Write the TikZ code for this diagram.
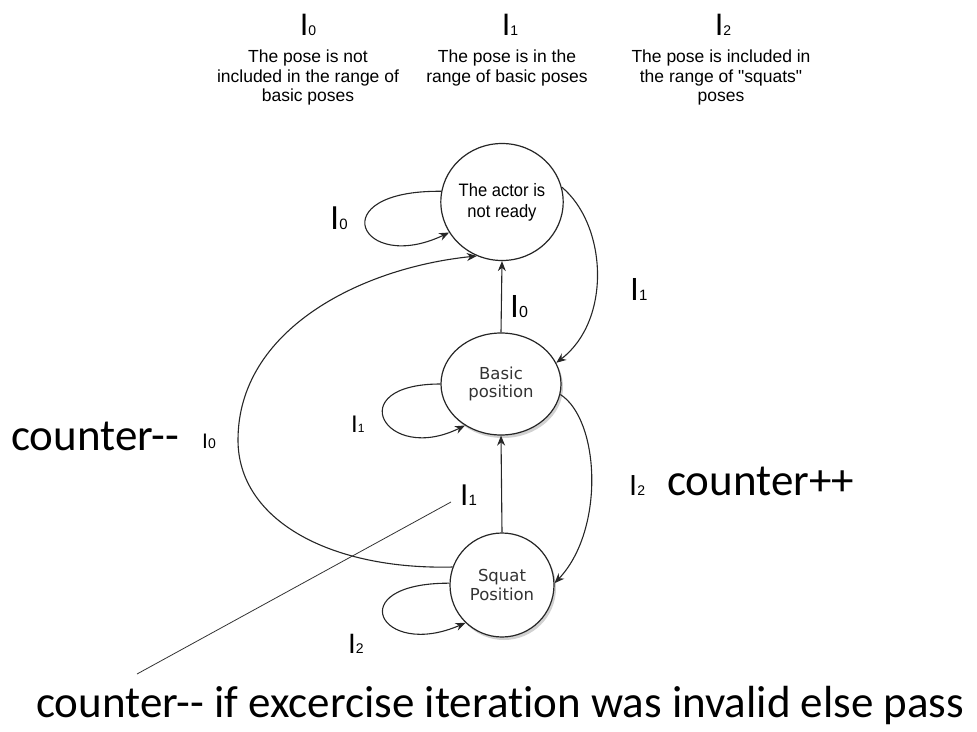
\documentclass[tikz,border=0pt]{standalone}
\usepackage{fontspec}
\setmainfont{Liberation Sans}[Ligatures=TeXOff]
\newfontfamily\narrowsans{Liberation Sans}[FakeStretch=0.92]
\newfontfamily\calib{Carlito}[Ligatures={TeXOff,NoCommon}]
\newfontfamily\djv{DejaVu Sans}
\usetikzlibrary{arrows.meta,shapes.geometric,shadows}
\newcommand\Ilab[3]{{\fontsize{#1}{#1}\selectfont I}{\fontsize{#2}{#2}\selectfont #3}}
\begin{document}
\begin{tikzpicture}[x=1pt,y=-1pt,
  state/.style={draw=black!85, line width=1.2pt, ellipse, inner sep=0pt, align=center, fill=white},
  shadowed/.style={drop shadow={shadow xshift=2pt, shadow yshift=-3pt, fill=black!40, opacity=.45}},
  edge/.style={draw=black!85, line width=1.1pt, -{Stealth[length=10pt,width=8pt]}},
  lbl/.style={anchor=base west, inner sep=0pt},
  desc/.style={anchor=north, align=center, inner sep=0pt, font=\fontsize{17.5}{19.5}\selectfont},
  big/.style={anchor=base west, inner sep=0pt, font=\calib\fontsize{45}{45}\selectfont}]
\useasboundingbox (0,0) rectangle (977,731);

% top legend
\node[anchor=base, inner sep=0pt] (t0) at (308,35) {\Ilab{31}{14}{0}};
\node[anchor=base, inner sep=0pt] (t1) at (510,35) {\Ilab{31}{14}{1}};
\node[anchor=base, inner sep=0pt] (t2) at (723,35) {\Ilab{31}{14}{2}};
\node[desc] (d0) at (308,50) {The pose is not\\included in the range of\\basic poses};
\node[desc] (d1) at (507,50) {The pose is in the\\range of basic poses};
\node[desc] (d2) at (721,50) {The pose is included in\\the range of "squats"\\poses};

% states
\node[state, minimum width=110pt, minimum height=117pt, font=\narrowsans\fontsize{18}{21}\selectfont] (A) at (502,202) {The actor is\\not ready};
\node[state, shadowed, minimum width=120pt, minimum height=102pt, text=black!80, font=\djv\fontsize{16.5}{18.5}\selectfont] (B) at (501,384) {Basic\\position};
\node[state, shadowed, minimum width=104pt, minimum height=104pt, text=black!80, font=\djv\fontsize{16.5}{19.5}\selectfont] (C) at (502,585) {Squat\\Position};

% straight edges
\draw[edge] (B.north) -- (A.south);
\draw[edge] (C.north) -- (B.south);

% right curved edges
\draw[edge] (A.14) .. controls (607,225) and (612,320) .. (B.21);
\draw[edge] (B.-10) .. controls (600,420) and (605,530) .. (C.2);

% big left arc
\coordinate (arcL) at (238,440);
\draw[edge] (C.160) .. controls (330,570) and (238,520) .. (arcL) .. controls (238,330) and (360,268) .. (A.245);

% self loops
\draw[edge] (A.170) .. controls (320,190) and (360,275) .. (A.210);
\draw[edge] (B.180) .. controls (340,384) and (385,465) .. (B.229);
\draw[edge] (C.178) .. controls (340,583) and (380,660) .. (C.226);

% pointer line
\coordinate (p1) at (137,674);
\coordinate (p2) at (451,502);
\draw[black!80, line width=0.8pt] (p1) -- (p2);

% edge labels
\node[lbl] (lA) at (330,229) {\Ilab{33}{15}{0}};
\node[lbl] (lBA) at (510,317) {\Ilab{32}{16}{0}};
\node[lbl] (lAB) at (630,300) {\Ilab{32}{15}{1}};
\node[lbl] (lB) at (351,432) {\Ilab{24}{12}{1}};
\node[lbl] (lCA) at (202,448) {\Ilab{21}{14}{0}};
\node[lbl] (lCB) at (460,505) {\Ilab{30}{15}{1}};
\node[lbl] (lBC) at (629,495) {\Ilab{29}{14}{2}};
\node[lbl] (lC) at (348,653) {\Ilab{28}{14}{2}};

% annotations
\node[big] (cm) at (11,450) {counter--};
\node[big] (cp) at (667,495) {counter++};
\node[big] (bt) at (36,717) {counter-- if excercise iteration was invalid else pass};
\end{tikzpicture}
\end{document}
